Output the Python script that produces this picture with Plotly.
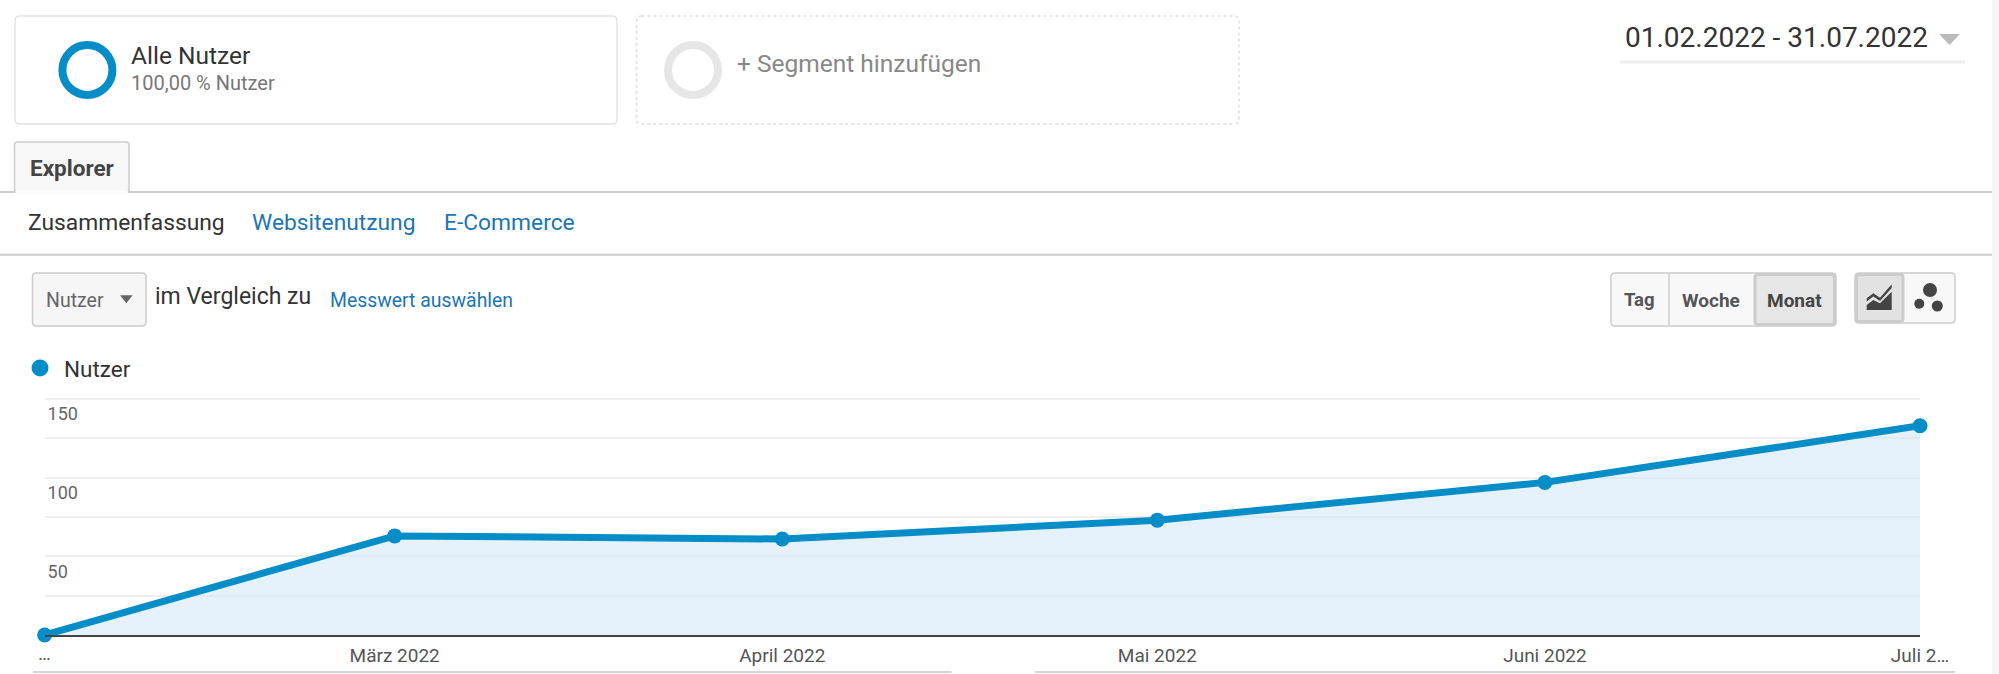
import plotly.graph_objects as go

# CONFIG
W = 1999
H = 674
FONT = "Roboto"
BLUE = "#058dc7"
LINK = "#1c75b5"

months = ["2022-02-01", "2022-03-01", "2022-04-01", "2022-05-01", "2022-06-01", "2022-07-01"]
users = [0, 63, 61, 73, 97, 133]
x_labels = ["…", "März 2022", "April 2022", "Mai 2022", "Juni 2022", "Juli 2…"]
y_ticks = [0, 25, 50, 75, 100, 125, 150]
y_labels = ["", "", "50", "", "100", "", "150"]


def fx(px):
    return px / W


def fy(py):
    return 1 - py / H


def rounded(x0, y0, x1, y1, r=5):
    p = [
        (x0 + r, y0), (x1 - r, y0), (x1, y0), (x1, y0 + r),
        (x1, y1 - r), (x1, y1), (x1 - r, y1), (x0 + r, y1),
        (x0, y1), (x0, y1 - r), (x0, y0 + r), (x0, y0), (x0 + r, y0),
    ]
    p = [(fx(a), fy(b)) for a, b in p]
    s = f"M{p[0][0]},{p[0][1]} L{p[1][0]},{p[1][1]} Q{p[2][0]},{p[2][1]} {p[3][0]},{p[3][1]} "
    s += f"L{p[4][0]},{p[4][1]} Q{p[5][0]},{p[5][1]} {p[6][0]},{p[6][1]} L{p[7][0]},{p[7][1]} "
    s += f"Q{p[8][0]},{p[8][1]} {p[9][0]},{p[9][1]} L{p[10][0]},{p[10][1]} "
    s += f"Q{p[11][0]},{p[11][1]} {p[12][0]},{p[12][1]} Z"
    return s


def polygon(points):
    p = [f"{fx(a)},{fy(b)}" for a, b in points]
    return "M" + " L".join(p) + " Z"


shapes = []
texts = []


def box(x0, y0, x1, y1, line="#e3e3e3", fill="white", dash="solid", width=1.5, r=5):
    shapes.append(dict(type="path", path=rounded(x0, y0, x1, y1, r), xref="paper", yref="paper",
                       fillcolor=fill, line=dict(color=line, width=width, dash=dash)))


def rect(x0, y0, x1, y1, fill):
    shapes.append(dict(type="rect", xref="paper", yref="paper", x0=fx(x0), x1=fx(x1), y0=fy(y0), y1=fy(y1),
                       fillcolor=fill, line=dict(width=0)))


def hline(x0, x1, y, color, width=2):
    shapes.append(dict(type="line", xref="paper", yref="paper", x0=fx(x0), x1=fx(x1), y0=fy(y), y1=fy(y),
                       line=dict(color=color, width=width)))


def vline(x, y0, y1, color, width=1.5):
    shapes.append(dict(type="line", xref="paper", yref="paper", x0=fx(x), x1=fx(x), y0=fy(y0), y1=fy(y1),
                       line=dict(color=color, width=width)))


def circle(cx, cy, r, fill="rgba(0,0,0,0)", line=None, width=0):
    shapes.append(dict(type="circle", xref="paper", yref="paper", x0=fx(cx - r), x1=fx(cx + r),
                       y0=fy(cy + r), y1=fy(cy - r), fillcolor=fill,
                       line=dict(color=line or fill, width=width)))


def tri(points, fill):
    shapes.append(dict(type="path", path=polygon(points), xref="paper", yref="paper",
                       fillcolor=fill, line=dict(width=0)))


def label(x, y, text, size, color="#333333", anchor="left", bold=False):
    texts.append(dict(x=fx(x), y=fy(y), xref="paper", yref="paper", text=text, showarrow=False,
                      xanchor=anchor, yanchor="middle", xshift=0,
                      font=dict(family=FONT, size=size, color=color, weight="bold" if bold else "normal")))


# segment cards
box(15, 16, 617, 124)
circle(87.4, 70, 25, line=BLUE, width=8)
label(128.5, 55.5, "Alle Nutzer", 24.5, "#333333")
label(128.5, 82.5, "100,00 % Nutzer", 20, "#777777")

box(636.5, 16, 1239, 124, line="#dddddd", dash="dot")
circle(693, 70, 25, line="#e6e6e6", width=8)
label(734.5, 64, "+ Segment hinzufügen", 24.5, "#888888")

# date range
label(1622.5, 38, "01.02.2022 - 31.07.2022", 28, "#333333")
tri([(1939, 34), (1960, 34), (1949.5, 45)], "#bbbbbb")
hline(1620, 1965, 62, "#eeeeee", 3)

# tabs
hline(0, 1992, 192, "#cccccc")
box(14.5, 142, 129, 192, line="#cccccc", fill="#f8f8f8", r=3)
hline(15.5, 128, 192, "#fbfbfb", 2.5)
label(27.5, 168, "Explorer", 22.5, "#444444", bold=True)
label(25.5, 222.5, "Zusammenfassung", 22.8, "#333333")
label(250, 222.5, "Websitenutzung", 22.8, LINK)
label(441.5, 222.5, "E-Commerce", 22.8, LINK)
hline(0, 1992, 254.7, "#cccccc")

# metric selector
box(32.5, 273, 146, 326, line="#cccccc", fill="#f6f6f6", r=4)
label(43.5, 300, "Nutzer", 19.5, "#666666")
tri([(120, 295.3), (132.6, 295.3), (126.3, 303.3)], "#666666")
label(152.5, 296.5, "im Vergleich zu", 23, "#333333")
label(327.5, 300, "Messwert auswählen", 19.4, LINK)

# time buttons
box(1611, 273, 1836, 326, line="#cccccc", fill="#f8f8f8", r=4)
box(1755, 274.5, 1834.5, 324.5, line="#cccccc", fill="#e6e6e6", width=3, r=3)
vline(1669, 274, 325, "#cccccc")
label(1639.5, 300, "Tag", 18.5, "#555555", anchor="center", bold=True)
label(1711, 300, "Woche", 19, "#555555", anchor="center", bold=True)
label(1794.5, 300, "Monat", 19, "#444444", anchor="center", bold=True)

# chart type buttons
box(1855, 273, 1955, 323, line="#cccccc", fill="#f8f8f8", r=4)
box(1856.5, 274.5, 1903, 321.5, line="#cccccc", fill="#e2e2e2", width=3, r=3)
tri([(1866.7, 298.3), (1873.3, 293.3), (1880, 297.7), (1891.7, 284.3), (1891.7, 288), (1880, 301),
     (1873.3, 296.5), (1866.7, 301.5)], "#444444")
tri([(1866.7, 305), (1873.3, 300), (1880, 303.3), (1891.7, 291.7), (1891.7, 310), (1866.7, 310)], "#444444")
circle(1930, 290, 7, fill="#444444")
circle(1919.3, 303.7, 5, fill="#444444")
circle(1937.3, 306, 5.5, fill="#444444")

# legend
circle(40, 368, 8.5, fill=BLUE)
label(62, 369, "Nutzer", 22.5, "#333333")

# scrollbar remains at the bottom
hline(33, 951.5, 672, "#d5d5d5")
hline(1035, 1955, 672, "#d5d5d5")
rect(1992, 0, 1999, 674, "#f6f6f6")

# first x label sits on the axis start, plotly hides it next to inside y labels
texts.append(dict(x=months[0], xref="x", y=fy(653), yref="paper", text=x_labels[0], showarrow=False,
                  xanchor="center", yanchor="middle",
                  font=dict(family=FONT, size=19, color="#555555")))

fig = go.Figure()

fig.add_trace(
    go.Scatter(
        x=months,
        y=users,
        name="Nutzer",
        mode="lines+markers",
        line=dict(color=BLUE, width=7),
        marker=dict(color=BLUE, size=15),
        fill="tozeroy",
        fillcolor="rgba(204,228,248,0.5)",
        cliponaxis=False,
    )
)

fig.update_layout(
    width=W,
    height=H,
    margin=dict(l=0, r=0, t=0, b=0, pad=0, autoexpand=False),
    paper_bgcolor="white",
    plot_bgcolor="white",
    showlegend=False,
    shapes=shapes,
    annotations=texts,
    xaxis=dict(
        type="date",
        automargin=False,
        domain=[fx(44.6), fx(1920)],
        range=[months[0], months[-1]],
        tickvals=months[1:],
        ticktext=x_labels[1:],
        showgrid=False,
        zeroline=False,
        showline=True,
        linecolor="#444444",
        linewidth=2,
        ticks="",
        ticklabelstandoff=2,
        tickfont=dict(family=FONT, size=19, color="#555555"),
    ),
    yaxis=dict(
        automargin=False,
        # range runs a little past 150 so plotly keeps the top gridline
        domain=[fy(635), fy(635 - 152 * 236 / 150)],
        range=[0, 152],
        tickvals=y_ticks,
        ticktext=y_labels,
        showgrid=True,
        gridcolor="#efefef",
        gridwidth=1.5,
        zeroline=False,
        showline=False,
        ticks="",
        ticklabelposition="inside",
        ticklabeloverflow="allow",
        ticklabelshift=15,
        ticklabelstandoff=0,
        tickfont=dict(family=FONT, size=18, color="#666666"),
    ),
)

fig.write_html(
    "out.html",
    config=dict(displayModeBar=False),
    post_script="document.body.style.margin='0';document.body.style.overflow='hidden';",
)
